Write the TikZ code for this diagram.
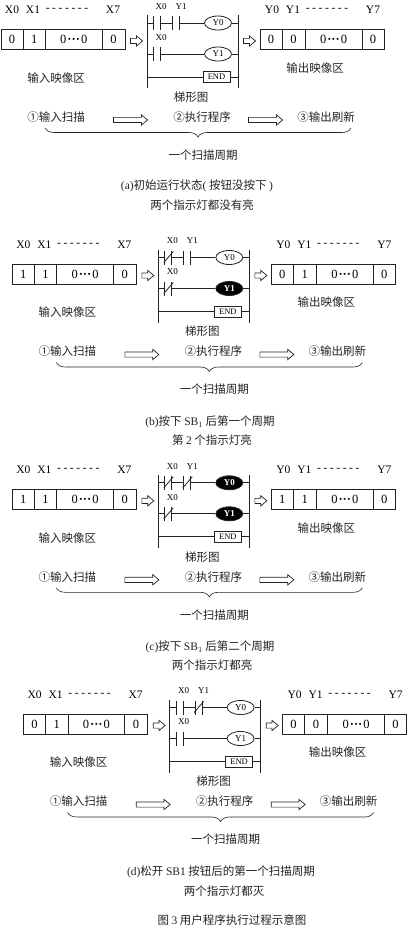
\documentclass[tikz,border=0pt]{standalone}
\usepackage{fontspec}
\setmainfont{Liberation Serif}
\newfontfamily\cjk{Noto Sans CJK SC}
\usetikzlibrary{positioning,shapes.geometric,shapes.arrows,decorations.pathreplacing}
\definecolor{InkGray}{RGB}{35,35,35}
\newcommand{\dashrun}{-\kern2.6pt-\kern2.6pt-\kern2.6pt-\kern2.6pt-\kern2.6pt-\kern2.6pt-}
\newcommand{\zerorun}{0\kern1pt\textbf{···}\kern1pt0}
\tikzset{
  ink/.style={draw=InkGray, line width=0.8pt},
  cell/.style={ink, minimum height=20pt, inner sep=0pt, outer sep=0pt, font=\fontsize{12.5}{13}\selectfont},
  bitname/.style={inner sep=0pt, font=\fontsize{11.5}{12}\selectfont},
  tagname/.style={inner sep=0pt, font=\fontsize{9}{9}\selectfont},
  cntext/.style={inner sep=0pt, text=InkGray, font=\cjk\fontsize{11.5}{12}\selectfont},
  lampoff/.style={ink, ellipse, minimum width=27pt, minimum height=14pt, inner sep=0pt, fill=white,
    font=\fontsize{9}{9}\selectfont},
  lampon/.style={lampoff, fill=black, text=white, font=\bfseries\fontsize{9}{9}\selectfont},
  endbox/.style={ink, minimum width=27pt, minimum height=11pt, inner sep=0pt, font=\fontsize{8.5}{9}\selectfont},
  hollow/.style={ink, line width=0.7pt, single arrow, inner sep=0pt, text height=4.5pt, text depth=0pt,
    single arrow head extend=2.5pt, single arrow head indent=0pt, single arrow tip angle=80, fill=white},
  contactno/.pic={
    \draw[ink] (-3.5,-7) -- (-3.5,7) (3.5,-7) -- (3.5,7);
    \coordinate (-l) at (-3.5,0); \coordinate (-r) at (3.5,0);
  },
  contactnc/.pic={
    \draw[ink] (-3.5,-7) -- (-3.5,7) (3.5,-7) -- (3.5,7);
    \draw[ink] (-4.5,5) -- (5,-6);
    \coordinate (-l) at (-3.5,0); \coordinate (-r) at (3.5,0);
  }
}
\begin{document}
\begin{tikzpicture}[x=1pt,y=-1pt]
  \useasboundingbox (0,0) rectangle (408,931);
  \foreach \pn/\px/\py/\ia/\ib/\oa/\ob/\ca/\cb/\cc/\fa/\fb in {
      a/0/0/0/1/0/0/contactno/contactno/contactno/lampoff/lampoff,
      b/11.3/234.5/1/1/0/1/contactnc/contactno/contactnc/lampoff/lampon,
      c/11.3/459.8/1/1/1/1/contactnc/contactnc/contactnc/lampon/lampon,
      d/22.6/684.5/0/1/0/0/contactno/contactnc/contactno/lampoff/lampoff}{
    \begin{scope}[shift={(\px,\py)}]
      % input image
      \node[cell, minimum width=22pt] (\pn-i0) at (12,39.5) {\ia};
      \node[cell, minimum width=22.5pt, right=0pt of \pn-i0] (\pn-i1) {\ib};
      \node[cell, minimum width=56.5pt, right=0pt of \pn-i1] (\pn-i2) {\zerorun};
      \node[cell, minimum width=23pt, right=0pt of \pn-i2] (\pn-i3) {0};
      \node[bitname] (\pn-x0) at (12,10) {X0};
      \node[bitname] (\pn-x1) at (33,10) {X1};
      \node[bitname] (\pn-xd) at (67,10) {\dashrun};
      \node[bitname] (\pn-x7) at (113,10) {X7};
      \node[cntext] (\pn-inlabel) at (56,78) {输入映像区};
      \node[hollow, minimum height=12pt] (\pn-arrowa) at (135,41) {};
      % ladder
      \coordinate (\pn-lt) at (147,15); \coordinate (\pn-lb) at (147,88);
      \coordinate (\pn-rt) at (238,15); \coordinate (\pn-rb) at (238,88);
      \draw[ink] (\pn-lt) -- (\pn-lb) (\pn-rt) -- (\pn-rb);
      \coordinate (\pn-l1) at (147,23); \coordinate (\pn-r1) at (238,23);
      \coordinate (\pn-l2) at (147,54); \coordinate (\pn-r2) at (238,54);
      \coordinate (\pn-l3) at (147,77); \coordinate (\pn-r3) at (238,77);
      \pic (\pn-ca) at (157,23) {\ca};
      \pic (\pn-cb) at (176,23) {\cb};
      \pic (\pn-cc) at (157,54) {\cc};
      \node[\fa] (\pn-y0) at (218,23) {Y0};
      \node[\fb] (\pn-y1) at (218,54) {Y1};
      \node[endbox] (\pn-end) at (216.5,77) {END};
      \draw[ink] (\pn-l1) -- (\pn-ca-l) (\pn-ca-r) -- (\pn-cb-l) (\pn-cb-r) -- (\pn-y0) -- (\pn-r1);
      \draw[ink] (\pn-l2) -- (\pn-cc-l) (\pn-cc-r) -- (\pn-y1) -- (\pn-r2);
      \draw[ink] (\pn-l3) -- (\pn-end) -- (\pn-r3);
      \node[tagname] (\pn-ta) at (161,6.5) {X0};
      \node[tagname] (\pn-tb) at (181,6.5) {Y1};
      \node[tagname] (\pn-tc) at (161,37.5) {X0};
      \node[cntext] (\pn-lad) at (191,97) {梯形图};
      % output image
      \node[hollow, minimum height=12pt] (\pn-arrowb) at (248,41) {};
      \node[cell, minimum width=22pt] (\pn-o0) at (271,39.5) {\oa};
      \node[cell, minimum width=23pt, right=0pt of \pn-o0] (\pn-o1) {\ob};
      \node[cell, minimum width=57pt, right=0pt of \pn-o1] (\pn-o2) {\zerorun};
      \node[cell, minimum width=22pt, right=0pt of \pn-o2] (\pn-o3) {0};
      \node[bitname] (\pn-y0t) at (272,10) {Y0};
      \node[bitname] (\pn-y1t) at (293,10) {Y1};
      \node[bitname] (\pn-yd) at (327,10) {\dashrun};
      \node[bitname] (\pn-y7t) at (373,10) {Y7};
      \node[cntext] (\pn-outlabel) at (315,68) {输出映像区};
      % scan steps
      \node[cntext] (\pn-s1) at (56,117) {①输入扫描};
      \node[hollow, minimum height=34pt] (\pn-arrowc) at (129,120) {};
      \node[cntext] (\pn-s2) at (202,117) {②执行程序};
      \node[hollow, minimum height=34pt] (\pn-arrowd) at (264,120) {};
      \node[cntext] (\pn-s3) at (326,117) {③输出刷新};
      \coordinate (\pn-bl) at (45,128); \coordinate (\pn-br) at (351,128);
      \draw[ink, line width=0.6pt, decorate, decoration={brace, amplitude=9pt}] (\pn-br) -- (\pn-bl);
      \node[cntext] (\pn-cycle) at (203,155) {一个扫描周期};
    \end{scope}
  }
  % captions
  \node[cntext] (capa) at (197,186) {{\rmfamily(a)}初始运行状态{\rmfamily(} 按钮没按下 {\rmfamily)}};
  \node[cntext] (capa2) at (202,205) {两个指示灯都没有亮};
  \node[cntext] (capb) at (210,421.7) {{\rmfamily(b)}按下 {\rmfamily SB$_1$} 后第一个周期};
  \node[cntext] (capb2) at (212,440) {第 {\rmfamily 2} 个指示灯亮};
  \node[cntext] (capc) at (210,646.7) {{\rmfamily(c)}按下 {\rmfamily SB$_1$} 后第二个周期};
  \node[cntext] (capc2) at (212,665) {两个指示灯都亮};
  \node[cntext] (capd) at (221,871.7) {{\rmfamily(d)}松开 {\rmfamily SB1} 按钮后的第一个扫描周期};
  \node[cntext] (capd2) at (224,890.7) {两个指示灯都灭};
  \node[cntext] (fig) at (232,920) {图 {\rmfamily 3} 用户程序执行过程示意图};
\end{tikzpicture}
\end{document}
